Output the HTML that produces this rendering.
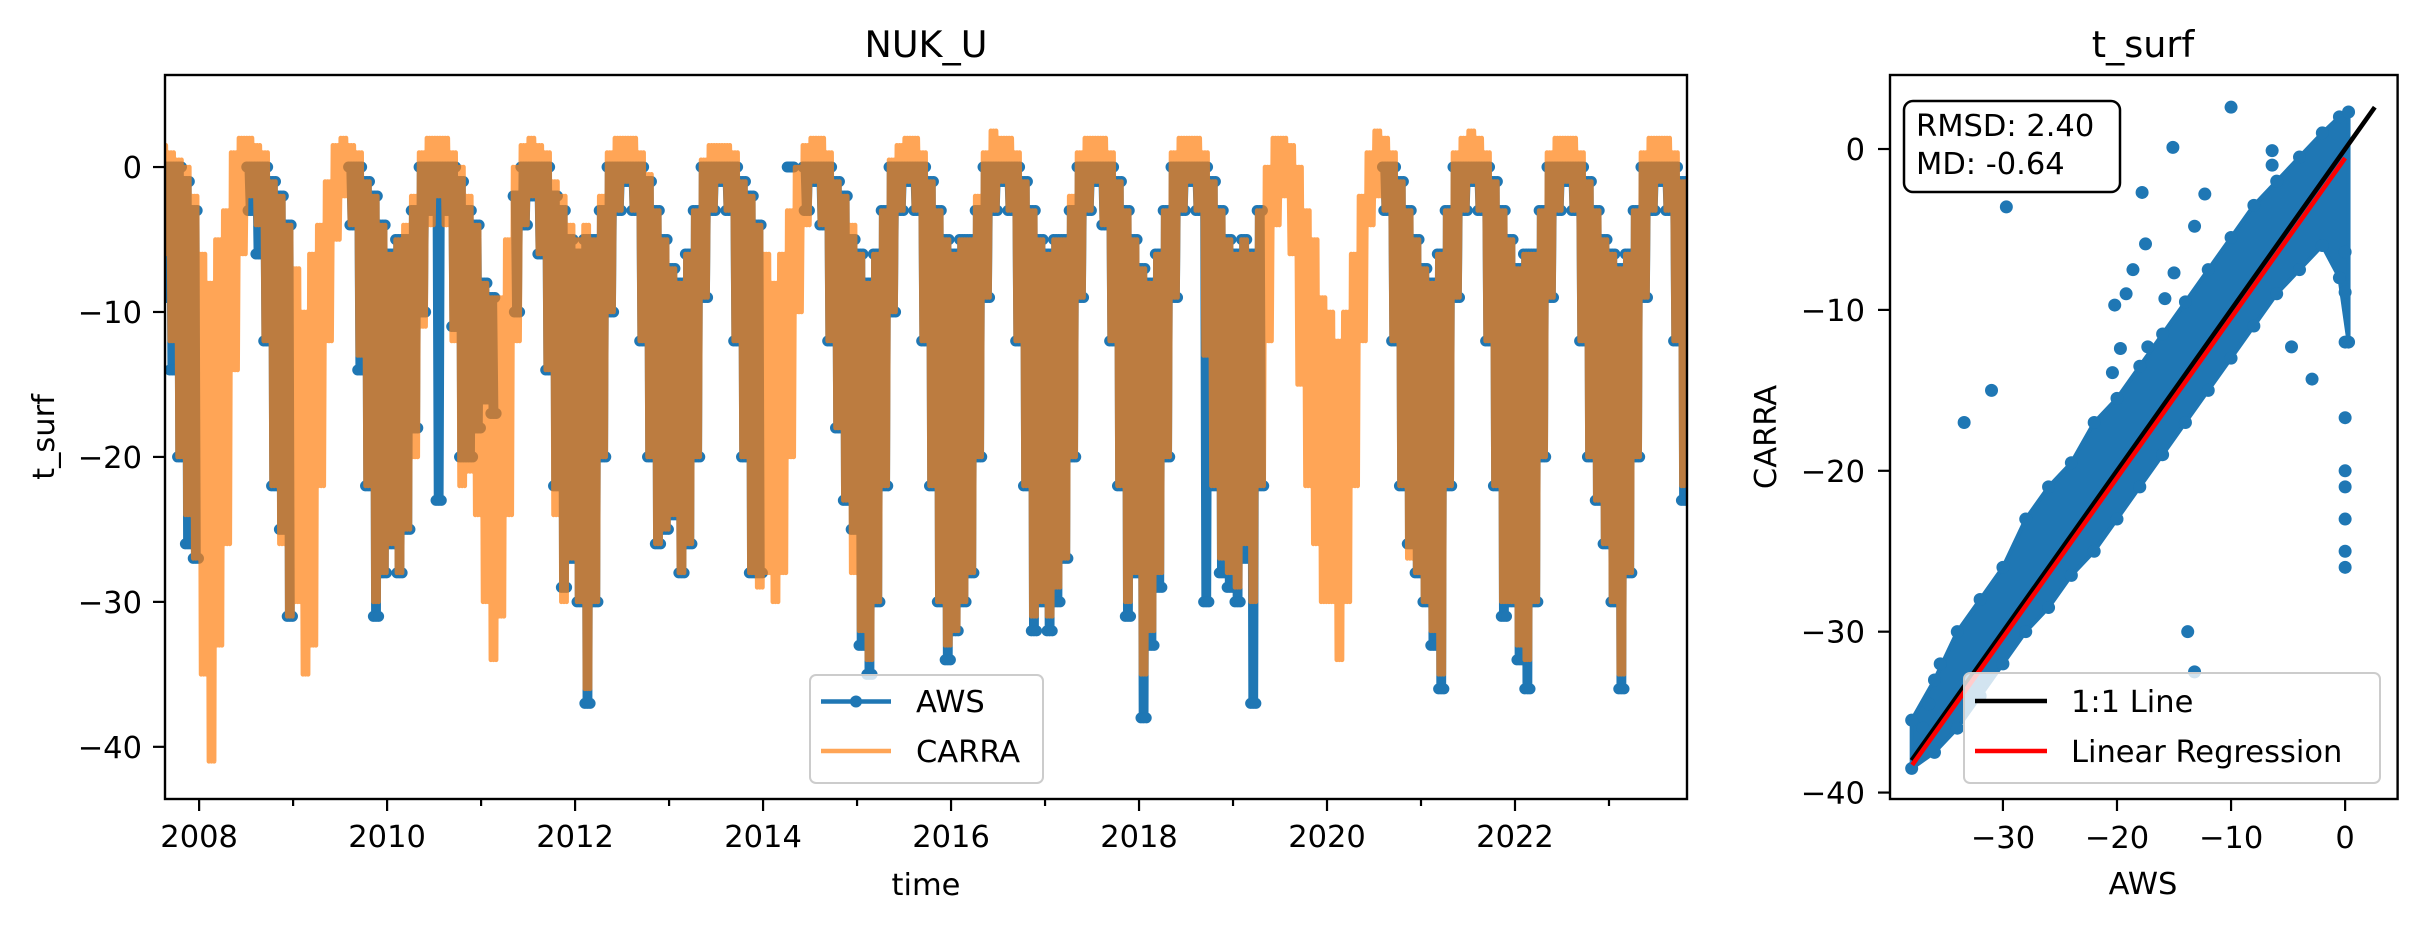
<!DOCTYPE html>
<html><head><meta charset="utf-8"><style>
html,body{margin:0;padding:0;background:#fff;}
svg{display:block;font-family:"DejaVu Sans","Liberation Sans",sans-serif;}
</style></head><body>
<svg id="fig" width="2421" height="926" viewBox="0 0 2421 926" xmlns="http://www.w3.org/2000/svg">
<defs>
<clipPath id="clipL"><rect x="165" y="75" width="1522" height="724"/></clipPath>
<clipPath id="clipR"><rect x="1890" y="75" width="507" height="724"/></clipPath>
</defs>
<rect x="0" y="0" width="2421" height="926" fill="#fff"/>
<g id="left-plot">
<text x="926" y="57" font-size="36.5" text-anchor="middle">NUK_U</text>
<g id="lseries" clip-path="url(#clipL)"></g>
<g id="laxes"></g>
<text x="926" y="895" font-size="30.5" text-anchor="middle">time</text>
<text x="0" y="0" font-size="30.5" text-anchor="middle" transform="translate(54,437) rotate(-90)">t_surf</text>
<g>
<rect x="810" y="675" width="233" height="108" rx="6" fill="#fff" fill-opacity="0.8" stroke="#cccccc" stroke-width="2"/>
<line x1="821" y1="701.5" x2="891" y2="701.5" stroke="#1f77b4" stroke-width="4.6"/>
<circle cx="856" cy="701.5" r="6" fill="#1f77b4"/>
<text x="916" y="712" font-size="30.5">AWS</text>
<line x1="821" y1="751" x2="891" y2="751" stroke="#ff7f0e" stroke-opacity="0.7" stroke-width="4.6"/>
<text x="916" y="762" font-size="30.5">CARRA</text>
</g>
</g>
<g id="right-plot">
<text x="2143" y="57" font-size="36.5" text-anchor="middle">t_surf</text>
<g id="rseries" clip-path="url(#clipR)"></g>
<g id="raxes"></g>
<text x="2143" y="894" font-size="30.5" text-anchor="middle">AWS</text>
<text x="0" y="0" font-size="30.5" text-anchor="middle" transform="translate(1776,437) rotate(-90)">CARRA</text>
<g>
<rect x="1904" y="101" width="216" height="91" rx="9" fill="#fff" stroke="#000" stroke-width="2.5"/>
<text x="1916" y="136" font-size="30.5">RMSD: 2.40</text>
<text x="1916" y="174" font-size="30.5">MD: -0.64</text>
</g>
<g>
<rect x="1964" y="673" width="416" height="110" rx="6" fill="#fff" fill-opacity="0.8" stroke="#cccccc" stroke-width="2"/>
<line x1="1975" y1="701" x2="2047" y2="701" stroke="#000" stroke-width="4.6"/>
<text x="2071" y="712" font-size="30.5">1:1 Line</text>
<line x1="1975" y1="751" x2="2047" y2="751" stroke="#ff0000" stroke-width="4.6"/>
<text x="2071" y="762" font-size="30.5">Linear Regression</text>
</g>
</g>
</svg>
<script>
// ---- time series data: monthly high/low envelopes starting Aug 2007 ----
const startYear = 2007 + 7/12;
const awsHi = [0,0,0,-1,-3,
null,null,null,null,null,null,0,0,0,-1,-2,-4,
null,null,null,null,null,null,null,0,0,-1,-2,-4,
-6,-5,-5,-3,0,0,0,0,0,-1,-3,-4,
-8,-9,null,null,-2,0,0,0,0,-2,-3,-5,
-6,-5,-5,-3,0,0,0,0,0,-1,-3,-5,
-7,-8,-6,-3,0,0,0,0,0,-1,-2,-4,
null,null,null,0,null,0,0,0,0,-1,-2,-5,
-6,-8,-6,-3,0,0,0,0,0,-1,-3,-5,
-6,-5,-5,-3,0,0,0,0,0,-1,-3,-5,
-6,-5,-5,-3,0,0,0,0,0,-1,-3,-5,
-7,-8,-6,-3,0,0,0,0,0,-1,-3,-5,
-6,-5,-6,-3,null,null,null,null,null,null,null,null,
null,null,null,null,null,null,null,0,0,-1,-3,-5,
-7,-8,-6,-3,0,0,0,0,0,-1,-3,-5,
-7,-6,-6,-3,0,0,0,0,0,-1,-3,-5,
-6,-7,-6,-3,0,0,0,0,0,-1];
const awsLo = [-9,-14,-20,-26,-27,
null,null,null,null,null,null,-3,-6,-12,-22,-25,-31,
null,null,null,null,null,null,null,-4,-14,-22,-31,-28,
-26,-28,-25,-18,-10,-3,-23,-3,-11,-20,-20,-18,
-16,-17,null,null,-10,-4,-2,-6,-14,-22,-29,-27,
-30,-37,-30,-20,-10,-3,-1,-3,-12,-20,-26,-25,
-24,-28,-26,-20,-9,-3,-1,-3,-12,-20,-28,-28,
null,null,null,0,null,-3,-1,-4,-12,-18,-23,-25,
-33,-35,-30,-22,-10,-3,-1,-3,-12,-22,-30,-34,
-32,-30,-28,-20,-9,-3,-1,-3,-12,-22,-32,-30,
-32,-30,-27,-20,-9,-3,-1,-4,-12,-22,-31,-28,
-38,-33,-29,-20,-9,-3,-1,-3,-30,-22,-28,-29,
-30,-27,-37,-22,null,null,null,null,null,null,null,null,
null,null,null,null,null,null,null,-3,-12,-22,-26,-28,
-30,-33,-36,-22,-9,-3,-1,-3,-12,-22,-31,-30,
-34,-36,-30,-20,-9,-3,-1,-3,-12,-20,-23,-26,
-30,-36,-28,-20,-9,-3,-1,-3,-12,-23];
const carraHi = [1.5,1,0.5,0,-2,
-6,-8,-5,-3,1,2,2,1.5,1,-1,-2,-4,
-7,-10,-6,-4,-1,1.5,2,1.5,1,-1,-2,-4,
-6,-5,-4,-2,1,2,2,2,1,0,-2,-4,
-8,-9,-9,-5,0,1.5,2,1.5,1,-1,-2,-4,
-5,-4,-5,-2,1,2,2,2,1,-0.5,-3,-5,
-7,-8,-6,-3,0.5,1.5,1.5,1.5,1,-1,-2,-4,
-6,-8,-6,-3,0,1.5,2,2,1,-1,-2,-4,
-6,-8,-6,-3,0.5,1.5,2,2,1,-1,-3,-5,
-6,-5,-5,-2,1,2.5,2,2,1,-1,-3,-5,
-6,-5,-5,-2,1,2,2,2,1,-1,-3,-5,
-7,-8,-6,-3,1,2,2,2,1,-1,-3,-5,
-6,-5,-6,-3,0,2,2,1.5,0,-3,-5,-9,
-10,-12,-10,-6,-2,1,2.5,2,1,-1,-3,-5,
-7,-8,-6,-3,1,2,2.5,2,1,-1,-3,-5,
-7,-6,-6,-3,1,2,2,2,1,-1,-3,-5,
-6,-7,-6,-3,1,2,2,2,1,-1];
const carraLo = [-6,-12,-20,-24,-27,
-35,-41,-33,-26,-14,-6,-2,-4,-12,-22,-26,-31,
-30,-35,-33,-22,-12,-5,-2,-4,-13,-22,-30,-28,
-26,-28,-25,-20,-11,-4,-2,-4,-12,-22,-21,-24,
-30,-34,-31,-24,-12,-4,-2,-6,-14,-24,-30,-27,
-30,-36,-30,-20,-10,-3,-1,-3,-12,-20,-26,-25,
-24,-28,-26,-20,-9,-3,-1,-3,-12,-20,-28,-29,
-28,-30,-28,-20,-10,-4,-1,-4,-12,-18,-23,-28,
-32,-34,-30,-22,-10,-3,-1,-3,-12,-22,-30,-33,
-32,-30,-28,-20,-9,-3,-1,-3,-12,-22,-31,-30,
-31,-29,-27,-20,-9,-3,-1,-4,-12,-22,-30,-28,
-35,-32,-28,-20,-9,-3,-1,-3,-13,-22,-27,-28,
-29,-26,-30,-22,-12,-4,-2,-6,-15,-22,-26,-30,
-30,-34,-30,-22,-12,-4,-2,-3,-12,-22,-27,-28,
-30,-32,-35,-22,-9,-3,-1,-3,-12,-22,-30,-30,
-33,-34,-30,-20,-9,-3,-1,-3,-12,-20,-23,-26,
-30,-35,-28,-20,-9,-3,-1,-3,-12,-22];
const yearTicks = [2008,2009,2010,2011,2012,2013,2014,2015,2016,2017,2018,2019,2020,2021,2022,2023];
const leftYTicks = [0,-10,-20,-30,-40];

// ---- scatter data ----
const bandX  = [-38,-36,-34,-32,-30,-28,-26,-24,-22,-20,-18,-16,-14,-12,-10,-8,-6,-4,-2,-0.5,0.3];
const bandLo = [-38.5,-37.5,-36,-34,-32,-30,-28.5,-26.5,-25,-23,-21,-19,-17,-15,-13,-11,-9,-7.5,-6,-8,-12];
const bandHi = [-35.5,-33,-30,-28,-26,-23,-21,-19.5,-17,-15.5,-13.5,-11.5,-9.5,-7.5,-5.5,-3.5,-2,-0.5,1,2,2.3];
const outX = [-29.7,-10.0,-15.1,-17.8,-12.3,-6.4,-6.4,-17.5,-13.2,-18.6,-15.0,-19.2,-20.2,-15.8,-19.7,-17.3,-20.4,-4.7,-2.9,0,0,0,0,0,0,0,0,0,-33.4,-31,-13.2,-13.8,-36.5,-37,-35.5];
const outY = [-3.6,2.6,0.1,-2.7,-2.8,-0.1,-1.0,-5.9,-4.8,-7.5,-7.7,-9.0,-9.7,-9.3,-12.4,-12.3,-13.9,-12.3,-14.3,-12,-16.7,-8.9,-6.4,-20,-21,-23,-25,-26,-17,-15,-32.5,-30,-34.5,-36,-32];
const regSlope = 0.994;
const regIntercept = -0.56;
const oneToOne = [-38, 2.6];
const scatterXTicks = [-30,-20,-10,0];
const scatterYTicks = [0,-10,-20,-30,-40];

const NS = "http://www.w3.org/2000/svg";
function mk(tag, attrs, parent){const e=document.createElementNS(NS,tag);for(const k in attrs)e.setAttribute(k,attrs[k]);parent.appendChild(e);return e;}

const xL = yr => 165 + (yr - 2007.637) / (2023.83 - 2007.637) * 1522;
const yL = v => 75 + (6.35 - v) / (6.35 + 43.6) * 724;
const xR = v => 1890 + (v + 39.9) / (39.9 + 4.6) * 507.6;
const yR = v => 75 + (4.6 - v) / (4.6 + 40.4) * 724;

const ls = document.getElementById('lseries');
function buildPts(hi, lo){
  const segs=[]; let cur=[];
  const N=6;
  for(let m=0;m<hi.length;m++){
    if(hi[m]===null){ if(cur.length){segs.push(cur);cur=[];} continue; }
    const t0 = startYear + m/12;
    for(let k=0;k<N;k++){
      const v = (k%2===0)? hi[m] : lo[m];
      cur.push([xL(t0 + (k+0.5)/(12*N)), yL(v)]);
    }
  }
  if(cur.length) segs.push(cur);
  return segs;
}
const awsSegs = buildPts(awsHi, awsLo);
const awsG = mk('g',{},ls);


awsSegs.forEach(seg=>{
  const p = mk('polyline',{points:seg.map(q=>q.join(',')).join(' '),fill:'none',stroke:'#1f77b4','stroke-width':4.6,'stroke-linejoin':'round'},awsG);
  
  
  seg.forEach(q=>{
    const c = mk('circle',{cx:q[0],cy:q[1],r:5.5,fill:'#1f77b4'},awsG);
    
    
  });
});
const carraSegs = buildPts(carraHi, carraLo);
const carraG = mk('g',{opacity:0.7},ls);


carraSegs.forEach(seg=>{
  const p = mk('polyline',{points:seg.map(q=>q.join(',')).join(' '),fill:'none',stroke:'#ff7f0e','stroke-width':4.6,'stroke-linejoin':'round'},carraG);
  
  
});

const la = document.getElementById('laxes');
const frameL = mk('rect',{x:165,y:75,width:1522,height:724,fill:'none',stroke:'#000','stroke-width':2.4},la);


yearTicks.forEach(yr=>{
  const x = xL(yr); const major = (yr%2===0);
  mk('line',{x1:x,y1:799,x2:x,y2:799+(major?12:7),stroke:'#000','stroke-width':2.2},la);
  if(major){
    const t = mk('text',{x:x,y:847,'font-size':30.5,'text-anchor':'middle'},la);
    t.textContent = yr;
    
    
  }
});
leftYTicks.forEach(v=>{
  const y = yL(v);
  mk('line',{x1:153,y1:y,x2:165,y2:y,stroke:'#000','stroke-width':2.2},la);
  const t = mk('text',{x:142,y:y+11,'font-size':30.5,'text-anchor':'end'},la);
  t.textContent = v<0 ? '\u2212'+Math.abs(v) : String(v);
  
  
});

const rs = document.getElementById('rseries');
let poly = [];
for(let i=0;i<bandX.length;i++) poly.push([xR(bandX[i]), yR(bandHi[i])]);
for(let i=bandX.length-1;i>=0;i--) poly.push([xR(bandX[i]), yR(bandLo[i])]);
const band = mk('polygon',{points:poly.map(q=>q.join(',')).join(' '),fill:'#1f77b4',stroke:'#1f77b4','stroke-width':4,'stroke-linejoin':'round'},rs);


for(let i=0;i<bandX.length;i++){
  [bandLo[i],bandHi[i]].forEach(v=>{
    const c = mk('circle',{cx:xR(bandX[i]),cy:yR(v),r:6.5,fill:'#1f77b4'},rs);
    
    
  });
}
for(let i=0;i<outX.length;i++){
  const c = mk('circle',{cx:xR(outX[i]),cy:yR(outY[i]),r:6.5,fill:'#1f77b4'},rs);
  
  
}
const l11 = mk('line',{x1:xR(oneToOne[0]),y1:yR(oneToOne[0]),x2:xR(oneToOne[1]),y2:yR(oneToOne[1]),stroke:'#000','stroke-width':4.6},rs);


const rx0 = -37.95, rx1 = 0;
const lreg = mk('line',{x1:xR(rx0),y1:yR(regSlope*rx0+regIntercept),x2:xR(rx1),y2:yR(regSlope*rx1+regIntercept),stroke:'#ff0000','stroke-width':4.6},rs);



const ra = document.getElementById('raxes');
const frameR = mk('rect',{x:1890,y:75,width:507.6,height:724,fill:'none',stroke:'#000','stroke-width':2.4},ra);


scatterXTicks.forEach(v=>{
  const x = xR(v);
  mk('line',{x1:x,y1:799,x2:x,y2:811,stroke:'#000','stroke-width':2.2},ra);
  const t = mk('text',{x:x,y:848,'font-size':30.5,'text-anchor':'middle'},ra);
  t.textContent = v<0 ? '\u2212'+Math.abs(v) : String(v);
  
  
});
scatterYTicks.forEach(v=>{
  const y = yR(v);
  mk('line',{x1:1878,y1:y,x2:1890,y2:y,stroke:'#000','stroke-width':2.2},ra);
  const t = mk('text',{x:1865,y:y+11,'font-size':30.5,'text-anchor':'end'},ra);
  t.textContent = v<0 ? '\u2212'+Math.abs(v) : String(v);
  
  
});
</script>
</body></html>
